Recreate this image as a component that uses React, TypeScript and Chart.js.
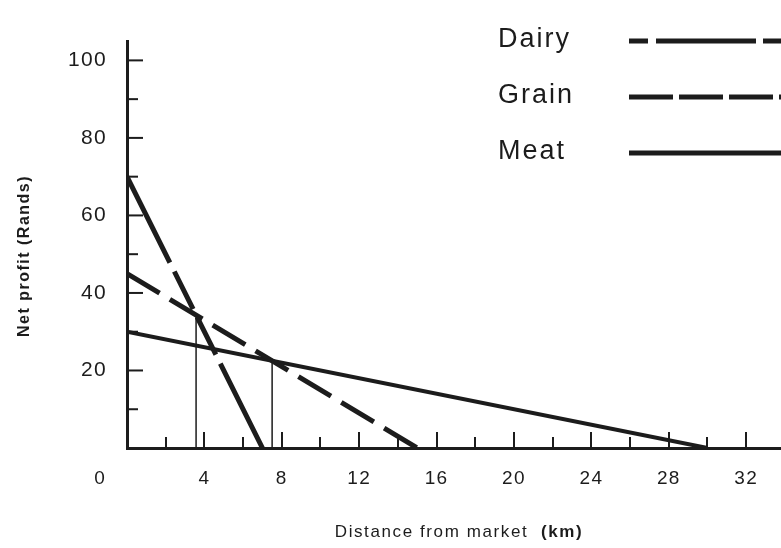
import React, { useEffect, useRef } from 'react';
import { Chart, registerables } from 'chart.js';

Chart.register(...registerables);

// ---- data ----
const seriesNames = ['Dairy', 'Grain', 'Meat'];
const dairyDistance = [0, 7];
const dairyProfit = [70, 0];
const grainDistance = [0, 15];
const grainProfit = [45, 0];
const meatDistance = [0, 30];
const meatProfit = [30, 0];
// vertical drop lines from the crossing points to the axis
const dairyGrainDropDistance = [3.57, 3.57];
const dairyGrainDropProfit = [34.3, 0];
const grainMeatDropDistance = [7.5, 7.5];
const grainMeatDropProfit = [22.5, 0];

const xTickLabels = [4, 8, 12, 16, 20, 24, 28, 32];
const yTickLabels = [20, 40, 60, 80, 100];
const originLabel = '0';
const xTitle = 'Distance from market';
const xUnit = '(km)';
const yTitle = 'Net profit (Rands)';

// ---- styles ----
const INK = '#1c1c1c';
const FONT = "'Liberation Sans', Arial, Helvetica, sans-serif";

const toPoints = (xs: number[], ys: number[]) => xs.map((x, i) => ({ x, y: ys[i] }));

const legendStyles = [
  { dash: [19, 8, 100, 7], width: 5 },
  { dash: [44, 6], width: 5 },
  { dash: [], width: 5 },
];

const decorPlugin = {
  id: 'decor',
  beforeDraw(chart: any) {
    (chart.ctx as any).letterSpacing = '1.3px';
  },
  beforeDatasetsDraw(chart: any) {
    const { ctx, chartArea, scales } = chart;
    const x = scales.x;
    const y = scales.y;
    ctx.save();
    ctx.strokeStyle = INK;
    ctx.lineWidth = 2;
    for (let v = 2; v <= x.max; v += 2) {
      const px = Math.round(x.getPixelForValue(v));
      const len = v % 4 === 0 ? 16 : 11;
      ctx.beginPath();
      ctx.moveTo(px, chartArea.bottom);
      ctx.lineTo(px, chartArea.bottom - len);
      ctx.stroke();
    }
    for (let v = 10; v <= y.max; v += 10) {
      const py = y.getPixelForValue(v);
      const len = v % 20 === 0 ? 16 : 11;
      ctx.beginPath();
      ctx.moveTo(chartArea.left, py);
      ctx.lineTo(chartArea.left + len, py);
      ctx.stroke();
    }
    ctx.restore();
  },
  afterDraw(chart: any) {
    const { ctx } = chart;
    ctx.save();
    ctx.fillStyle = INK;
    // origin label
    (ctx as any).letterSpacing = '1px';
    ctx.font = `19px ${FONT}`;
    ctx.textAlign = 'center';
    ctx.textBaseline = 'middle';
    ctx.fillText(originLabel, 100, 479);

    // x title
    (ctx as any).letterSpacing = '1.6px';
    ctx.textAlign = 'left';
    ctx.textBaseline = 'alphabetic';
    ctx.font = `17px ${FONT}`;
    const w1 = ctx.measureText(xTitle + '  ').width;
    ctx.font = `bold 17px ${FONT}`;
    const w2 = ctx.measureText(xUnit).width;
    const startX = 459 - (w1 + w2) / 2;
    ctx.font = `17px ${FONT}`;
    ctx.fillText(xTitle, startX, 537);
    ctx.font = `bold 17px ${FONT}`;
    ctx.fillText(xUnit, startX + w1, 537);

    // y title
    ctx.save();
    ctx.translate(25, 256);
    ctx.rotate(-Math.PI / 2);
    (ctx as any).letterSpacing = '1.5px';
    ctx.font = `bold 16px ${FONT}`;
    ctx.textAlign = 'center';
    ctx.textBaseline = 'middle';
    ctx.fillText(yTitle, 0, 0);
    ctx.restore();

    // legend
    const baselines = [47, 103, 159];
    const lineYs = [41, 97, 153];
    (ctx as any).letterSpacing = '2px';
    ctx.font = `27px ${FONT}`;
    ctx.textAlign = 'left';
    ctx.textBaseline = 'alphabetic';
    seriesNames.forEach((name, i) => {
      ctx.fillStyle = INK;
      ctx.fillText(name, 498, baselines[i]);
      ctx.strokeStyle = INK;
      ctx.lineWidth = legendStyles[i].width;
      ctx.setLineDash(legendStyles[i].dash);
      ctx.beginPath();
      ctx.moveTo(629, lineYs[i]);
      ctx.lineTo(chart.width + 2, lineYs[i]);
      ctx.stroke();
    });
    ctx.setLineDash([]);
    ctx.restore();
  },
};

export default function App() {
  const ref = useRef<HTMLCanvasElement | null>(null);

  useEffect(() => {
    if (!ref.current) return;
    Chart.defaults.font.family = FONT;
    const chart = new Chart(ref.current, {
      type: 'scatter',
      data: {
        datasets: [
          {
            label: seriesNames[0],
            data: toPoints(dairyDistance, dairyProfit),
            showLine: true,
            borderColor: INK,
            borderWidth: 5,
            borderDash: [96, 10, 42, 9, 42, 10],
            pointRadius: 0,
          },
          {
            label: seriesNames[1],
            data: toPoints(grainDistance, grainProfit),
            showLine: true,
            borderColor: INK,
            borderWidth: 5,
            borderDash: [38, 12],
            pointRadius: 0,
          },
          {
            label: seriesNames[2],
            data: toPoints(meatDistance, meatProfit),
            showLine: true,
            borderColor: INK,
            borderWidth: 4,
            pointRadius: 0,
          },
          {
            label: 'drop1',
            data: toPoints(dairyGrainDropDistance, dairyGrainDropProfit),
            showLine: true,
            borderColor: INK,
            borderWidth: 1.5,
            pointRadius: 0,
          },
          {
            label: 'drop2',
            data: toPoints(grainMeatDropDistance, grainMeatDropProfit),
            showLine: true,
            borderColor: INK,
            borderWidth: 1.5,
            pointRadius: 0,
          },
        ],
      },
      options: {
        responsive: false,
        animation: false,
        events: [],
        layout: { padding: { top: 41, left: 0, right: 0, bottom: 0 } },
        plugins: {
          legend: { display: false },
          tooltip: { enabled: false },
          title: { display: false },
        },
        scales: {
          x: {
            type: 'linear',
            min: 0,
            max: 33.8,
            afterFit: (s: any) => {
              s.height = 100;
            },
            grid: { display: false, drawTicks: false },
            border: { display: true, width: 3, color: INK },
            ticks: {
              stepSize: 4,
              includeBounds: false,
              autoSkip: false,
              maxRotation: 0,
              padding: 19,
              color: INK,
              font: { size: 19, family: FONT },
              callback: (v: any) => (xTickLabels.includes(Number(v)) ? String(v) : ''),
            },
          },
          y: {
            type: 'linear',
            min: 0,
            max: 105,
            afterFit: (s: any) => {
              s.width = 127;
            },
            grid: { display: false, drawTicks: false },
            border: { display: true, width: 3, color: INK },
            ticks: {
              stepSize: 20,
              includeBounds: false,
              autoSkip: false,
              padding: 20,
              color: INK,
              font: { size: 21, family: FONT },
              callback: (v: any) => (yTickLabels.includes(Number(v)) ? String(v) : ''),
            },
          },
        },
      },
      plugins: [decorPlugin],
    } as any);
    return () => chart.destroy();
  }, []);

  return (
    <div style={{ position: 'fixed', left: 0, top: 0, width: 781, height: 548, background: '#fff' }}>
      <canvas ref={ref} width={781} height={548} style={{ display: 'block' }} />
    </div>
  );
}
